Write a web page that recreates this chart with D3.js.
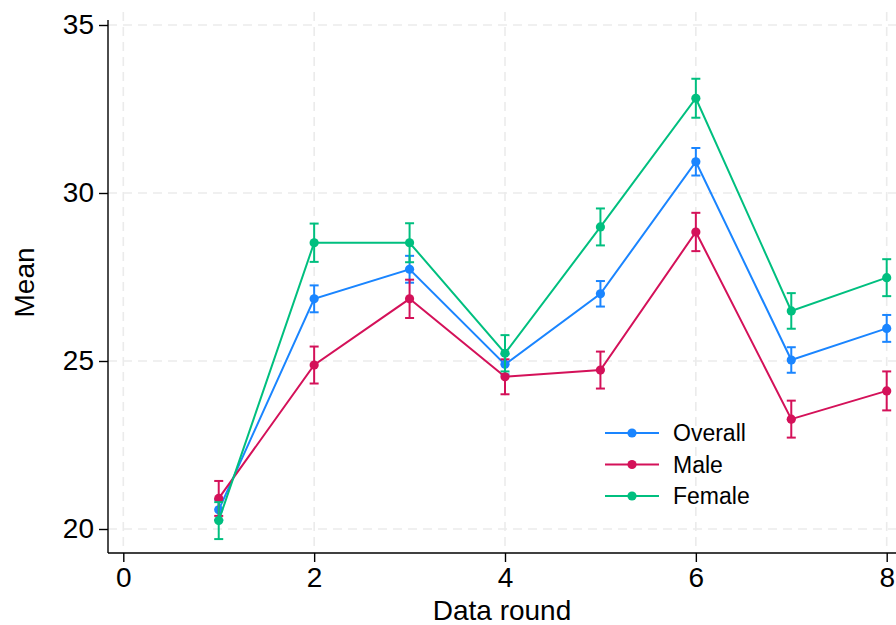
<!DOCTYPE html>
<html>
<head>
<meta charset="utf-8">
<script src="https://cdn.jsdelivr.net/npm/d3@7"></script>
<style>
  body { margin: 0; background: #fff; }
  text { font-family: "Liberation Sans", Arial, sans-serif; fill: #000; }
</style>
</head>
<body>
<div id="chart"></div>
<script>
// data
var rounds = [1, 2, 3, 4, 5, 6, 7, 8];
var overallMean = [20.57, 26.85, 27.73, 24.90, 27.00, 30.93, 25.03, 25.97];
var overallCi   = [0.30, 0.40, 0.40, 0.30, 0.38, 0.41, 0.38, 0.40];
var maleMean    = [20.91, 24.88, 26.85, 24.53, 24.73, 28.84, 23.27, 24.11];
var maleCi      = [0.52, 0.55, 0.57, 0.52, 0.55, 0.57, 0.55, 0.58];
var femaleMean  = [20.25, 28.52, 28.52, 25.23, 28.99, 32.82, 26.49, 27.48];
var femaleCi    = [0.55, 0.57, 0.58, 0.54, 0.55, 0.58, 0.53, 0.55];
var seriesNames = ["Overall", "Male", "Female"];
var xTicks = [0, 2, 4, 6, 8];
var yTicks = [20, 25, 30, 35];

var colors = ["#1a85ff", "#d41159", "#00bf7f"];

var series = [
  {name: seriesNames[0], mean: overallMean, ci: overallCi},
  {name: seriesNames[1], mean: maleMean, ci: maleCi},
  {name: seriesNames[2], mean: femaleMean, ci: femaleCi}
];

var W = 896, H = 625;
var svg = d3.select("#chart").append("svg")
  .attr("width", W).attr("height", H);

var x = d3.scaleLinear().domain([0, 8]).range([123.3, 886.7]);
var y = d3.scaleLinear().domain([20, 35]).range([529, 25]);

var plotLeft = 108, plotBottom = 553, plotTop = 12, axisTop = 20;

// grid
svg.append("g").selectAll("line").data(xTicks).enter().append("line")
  .attr("x1", function(d) { return x(d); }).attr("x2", function(d) { return x(d); })
  .attr("y1", plotTop).attr("y2", plotBottom)
  .attr("stroke", "#ebebeb").attr("stroke-width", 1.6)
  .attr("stroke-dasharray", "9,6");
svg.append("g").selectAll("line").data(yTicks).enter().append("line")
  .attr("x1", plotLeft).attr("x2", W)
  .attr("y1", function(d) { return y(d); }).attr("y2", function(d) { return y(d); })
  .attr("stroke", "#ebebeb").attr("stroke-width", 1.6)
  .attr("stroke-dasharray", "9,6");

// axes
var yAxis = svg.append("g")
  .attr("transform", "translate(" + plotLeft + ",0)")
  .call(d3.axisLeft(y).tickValues(yTicks).tickSize(9).tickPadding(5).tickSizeOuter(0));
yAxis.select(".domain").attr("d", "M0," + axisTop + "V" + plotBottom);
var xAxis = svg.append("g")
  .attr("transform", "translate(0," + plotBottom + ")")
  .call(d3.axisBottom(x).tickValues(xTicks).tickSize(9).tickPadding(5).tickSizeOuter(0));
xAxis.select(".domain").attr("d", "M" + plotLeft + ",0H" + W);
svg.selectAll(".tick text").style("font-size", "28px")
  .style("font-family", "'Liberation Sans', Arial, sans-serif");
svg.selectAll(".domain, .tick line").attr("stroke", "#000").attr("stroke-width", 1.4);

// axis titles
svg.append("text")
  .attr("x", (plotLeft + W) / 2).attr("y", 620)
  .attr("text-anchor", "middle").style("font-size", "28px")
  .text("Data round");
svg.append("text")
  .attr("transform", "translate(34," + ((plotTop + plotBottom) / 2) + ") rotate(-90)")
  .attr("text-anchor", "middle").style("font-size", "28px")
  .text("Mean");

// series
var line = d3.line()
  .x(function(d, i) { return x(rounds[i]); })
  .y(function(d) { return y(d); });

series.forEach(function(s, k) {
  var g = svg.append("g");
  var col = colors[k];
  // error bars
  rounds.forEach(function(r, i) {
    var lo = y(s.mean[i] - s.ci[i]), hi = y(s.mean[i] + s.ci[i]), cx = x(r);
    g.append("line").attr("x1", cx).attr("x2", cx).attr("y1", lo).attr("y2", hi)
      .attr("stroke", col).attr("stroke-width", 2);
    [lo, hi].forEach(function(v) {
      g.append("line").attr("x1", cx - 4.5).attr("x2", cx + 4.5).attr("y1", v).attr("y2", v)
        .attr("stroke", col).attr("stroke-width", 2);
    });
  });
  g.append("path").datum(s.mean)
    .attr("d", line).attr("fill", "none")
    .attr("stroke", col).attr("stroke-width", 2);
  g.selectAll("circle").data(s.mean).enter().append("circle")
    .attr("cx", function(d, i) { return x(rounds[i]); })
    .attr("cy", function(d) { return y(d); })
    .attr("r", 4.6).attr("fill", col);
});

// legend
var legend = svg.append("g");
series.forEach(function(s, k) {
  var ly = 433 + k * 31.5;
  legend.append("line").attr("x1", 605).attr("x2", 659).attr("y1", ly).attr("y2", ly)
    .attr("stroke", colors[k]).attr("stroke-width", 2);
  legend.append("circle").attr("cx", 632).attr("cy", ly).attr("r", 4.6).attr("fill", colors[k]);
  legend.append("text").attr("x", 673).attr("y", ly + 8)
    .style("font-size", "23px").text(s.name);
});
</script>
</body>
</html>
